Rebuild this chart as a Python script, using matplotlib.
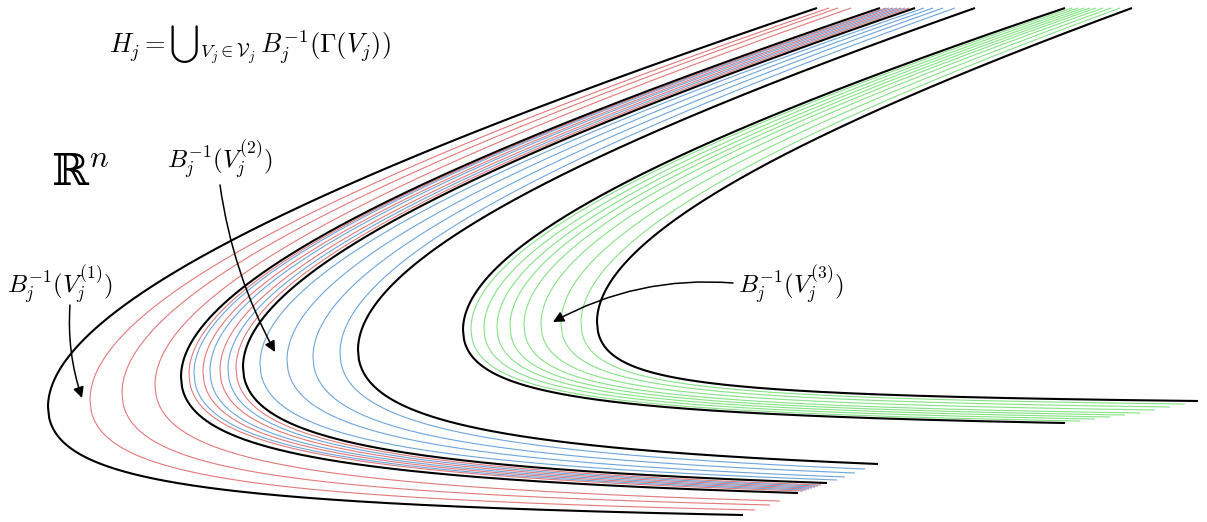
import numpy as np
import matplotlib.pyplot as plt

plt.rcParams['mathtext.fontset'] = 'cm'

# curve parameters (pixel frame): vertex x, vertex y, x where the upper arm
# leaves the top edge, end point of the lower arm
black_vx = [48, 181, 243, 358, 463, 597]
black_vy = [407, 377, 367, 350, 330, 322]
black_top = [817, 880, 915, 975, 1065, 1132]
black_ex = [743, 798, 827, 878, 1065, 1198]
black_ey = [515, 493, 483, 464, 423, 401]

red_vx = [90, 122, 155, 189, 203, 220, 236]
red_vy = [400, 393, 385, 374, 372, 370, 368]
red_top = [829, 838, 851, 886, 893, 901, 909]
red_ex = [755, 770, 780, 803, 809, 815, 821]
red_ey = [510, 505, 501, 491, 489, 487, 485]

blue_vx = [194, 210, 228, 260, 287, 313, 340]
blue_vy = [373, 371, 369, 364, 360, 357, 353]
blue_top = [889, 897, 905, 924, 933, 943, 955]
blue_ex = [806, 812, 818, 837, 845, 855, 865]
blue_ey = [490, 488, 486, 480, 477, 473, 469]

green_vx = [471, 484, 497, 510, 524, 541, 561, 581]
green_vy = [329, 328, 327, 326, 325, 324, 323, 323]
green_top = [1072, 1078, 1084, 1090, 1096, 1103, 1111, 1120]
green_ex = [1080, 1095, 1110, 1125, 1140, 1155, 1170, 1185]
green_ey = [421, 419, 417, 415, 413, 410, 407, 404]

TOP = 8


def preimage_curve(xv, yv, xt, xe, ye, U=462):
    # upper arm: x = xv + b h^2/(U+h), lower arm: x = xv + c D d^2/(D-d)
    ht = yv - TOP
    b = (xt - xv) * (U + ht) / ht**2
    c = b / U  # same curvature on both sides of the vertex
    de = ye - yv
    L = xe - xv
    D = L * de / (L - c * de**2)
    h = np.linspace(ht, 0, 300)
    xu = xv + b * h**2 / (U + h)
    yu = yv - h
    dx = np.linspace(0, L, 600)
    d = (-dx + np.sqrt(dx**2 + 4 * c * D * D * dx)) / (2 * c * D)
    return np.concatenate([xu, xv + dx[1:]]), np.concatenate([yu, yv + d[1:]])


fig = plt.figure(figsize=(12.07, 5.22), dpi=100)
ax = fig.add_axes([0, 0, 1, 1])
ax.set_xlim(0, 1207)
ax.set_ylim(522, 0)
ax.axis('off')

groups = [
    (red_vx, red_vy, red_top, red_ex, red_ey, '#e06a6a'),
    (blue_vx, blue_vy, blue_top, blue_ex, blue_ey, '#5d9bd8'),
    (green_vx, green_vy, green_top, green_ex, green_ey, '#77e077'),
]
for vx, vy, top, ex, ey, col in groups:
    for i in range(len(vx)):
        x, y = preimage_curve(vx[i], vy[i], top[i], ex[i], ey[i])
        ax.plot(x, y, color=col, lw=0.8, alpha=0.9, solid_capstyle='butt')

for i in range(len(black_vx)):
    x, y = preimage_curve(black_vx[i], black_vy[i], black_top[i], black_ex[i], black_ey[i])
    ax.plot(x, y, color='black', lw=1.5, solid_capstyle='butt')

ax.text(250, 45, r'$H_j = {\bigcup}_{V_j\in\mathcal{V}_j}\, B_j^{-1}(\Gamma(V_j))$',
        fontsize=19, ha='center', va='center')
ax.text(80, 172, '\u211d$^n$', fontsize=32, ha='center', va='center',
        family='DejaVu Serif')
ax.text(220, 160, r'$B_j^{-1}(V_j^{(2)})$', fontsize=18, ha='center', va='center')
ax.text(60, 285, r'$B_j^{-1}(V_j^{(1)})$', fontsize=18, ha='center', va='center')
ax.text(791, 285, r'$B_j^{-1}(V_j^{(3)})$', fontsize=18, ha='center', va='center')

arrow = dict(arrowstyle='-|>', color='black', lw=1.1, mutation_scale=16, shrinkA=0, shrinkB=0)
ax.annotate('', xy=(82, 398), xytext=(70, 305),
            arrowprops=dict(arrow, connectionstyle='arc3,rad=0.1'))
ax.annotate('', xy=(275, 352), xytext=(220, 185),
            arrowprops=dict(arrow, connectionstyle='arc3,rad=0.09'))
ax.annotate('', xy=(553, 322), xytext=(733, 283),
            arrowprops=dict(arrow, connectionstyle='arc3,rad=0.15'))

fig.savefig('out.png', dpi=100)
